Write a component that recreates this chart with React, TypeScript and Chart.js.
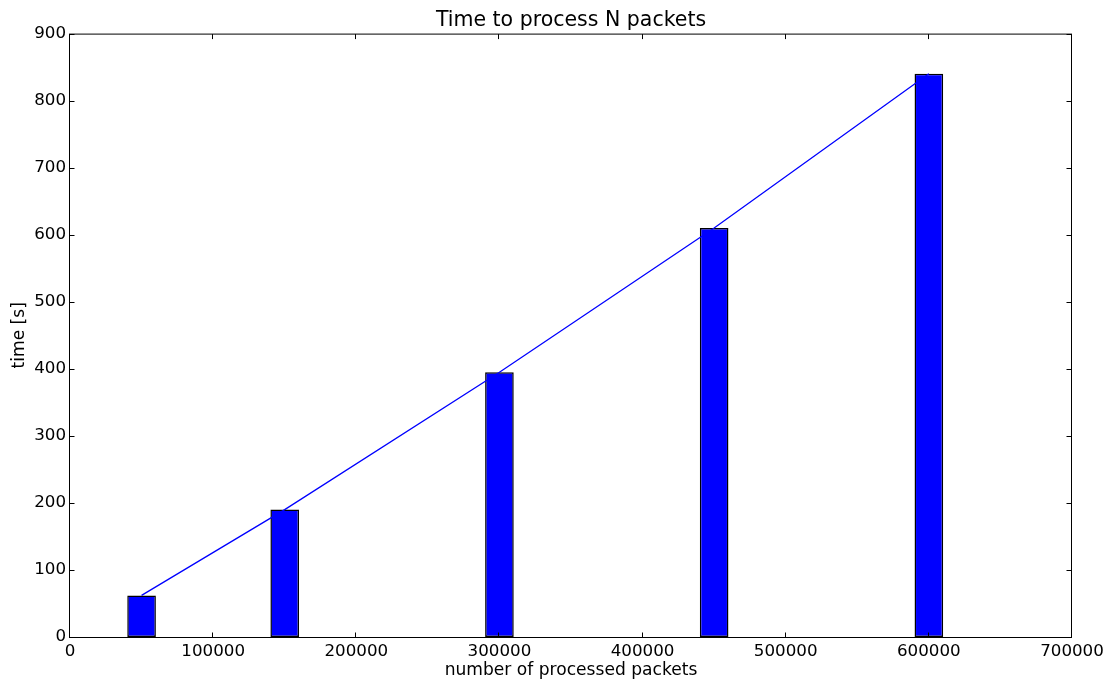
import React, { useEffect, useRef } from "react";
import { Chart, registerables } from "chart.js";

Chart.register(...registerables);

const packetCounts = [50000, 150000, 300000, 450000, 600000];
const timesSec = [62, 190, 395, 610, 840];
const xTickStep = 100000;
const yTickStep = 100;

const FONT = "'DejaVu Sans', 'Liberation Sans', sans-serif";

const frameAndTicks = {
  id: "frameAndTicks",
  afterDatasetsDraw(chart: any) {
    const { ctx, chartArea } = chart;
    const { left, right, top, bottom } = chartArea;
    const L = left - 0.5;
    const R = right - 0.5;
    const T = top + 0.5;
    const B = bottom + 0.5;
    const xs = chart.scales.x;
    const ys = chart.scales.y;
    const len = 5;
    ctx.save();
    ctx.strokeStyle = "#000";
    ctx.lineWidth = 1;
    ctx.beginPath();
    xs.ticks.forEach((t: any) => {
      const px = Math.round(xs.getPixelForValue(t.value)) - 0.5;
      ctx.moveTo(px, B);
      ctx.lineTo(px, B - len);
      ctx.moveTo(px, T);
      ctx.lineTo(px, T + len);
    });
    ys.ticks.forEach((t: any) => {
      const py = Math.round(ys.getPixelForValue(t.value)) + 0.5;
      ctx.moveTo(L, py);
      ctx.lineTo(L + len, py);
      ctx.moveTo(R, py);
      ctx.lineTo(R - len, py);
    });
    ctx.stroke();
    ctx.strokeRect(L, T, R - L, B - T);
    ctx.restore();
  },
};

export default function App() {
  const ref = useRef<HTMLCanvasElement | null>(null);
  useEffect(() => {
    if (!ref.current) return;
    const points = packetCounts.map((x, i) => ({ x, y: timesSec[i] }));
    const chart = new Chart(ref.current, {
      type: "bar",
      data: {
        datasets: [
          {
            type: "line",
            data: points,
            borderColor: "#0000ff",
            borderWidth: 1.3,
            pointRadius: 0,
            fill: false,
            tension: 0,
            order: 0,
          } as any,
          {
            type: "bar",
            data: points,
            backgroundColor: "#0000ff",
            borderColor: "#000000",
            borderWidth: 1.5,
            borderSkipped: false,
            barPercentage: 1,
            categoryPercentage: 0.2,
            order: 1,
          } as any,
        ],
      },
      options: {
        responsive: false,
        animation: false,
        layout: { padding: { left: 0, right: 44, top: 0, bottom: 0 } },
        plugins: {
          legend: { display: false },
          tooltip: { enabled: false },
          title: {
            display: true,
            fullSize: false,
            text: "Time to process N packets",
            color: "#000",
            font: { family: FONT, size: 20.5, weight: "normal" },
            padding: { top: 8, bottom: 1 },
          },
        },
        scales: {
          x: {
            type: "linear",
            min: 0,
            max: 700000,
            offset: false,
            grid: { display: false, drawTicks: false, offset: false },
            border: { display: false },
            ticks: {
              stepSize: xTickStep,
              color: "#000",
              padding: 5,
              maxRotation: 0,
              font: { family: FONT, size: 16.7 },
              callback: (v: any) => String(v),
            },
            title: {
              display: true,
              text: "number of processed packets",
              color: "#000",
              font: { family: FONT, size: 17.1 },
              padding: { top: 0, bottom: 3 },
            },
            afterFit: (s: any) => {
              s.height = 47;
            },
          },
          y: {
            type: "linear",
            min: 0,
            max: 900,
            grid: { display: false, drawTicks: false },
            border: { display: false },
            ticks: {
              stepSize: yTickStep,
              color: "#000",
              padding: 4,
              font: { family: FONT, size: 16.7 },
              callback: (v: any) => String(v),
            },
            title: {
              display: true,
              text: "time [s]",
              color: "#000",
              font: { family: FONT, size: 17.1 },
              padding: { top: 9, bottom: 0 },
            },
            afterFit: (s: any) => {
              s.width = 70;
            },
          },
        },
      },
      plugins: [frameAndTicks],
    });
    return () => chart.destroy();
  }, []);
  return (
    <div style={{ position: "absolute", left: 0, top: 0, width: 1116, height: 684, background: "#fff" }}>
      <canvas ref={ref} width={1116} height={684} style={{ display: "block" }} />
    </div>
  );
}
